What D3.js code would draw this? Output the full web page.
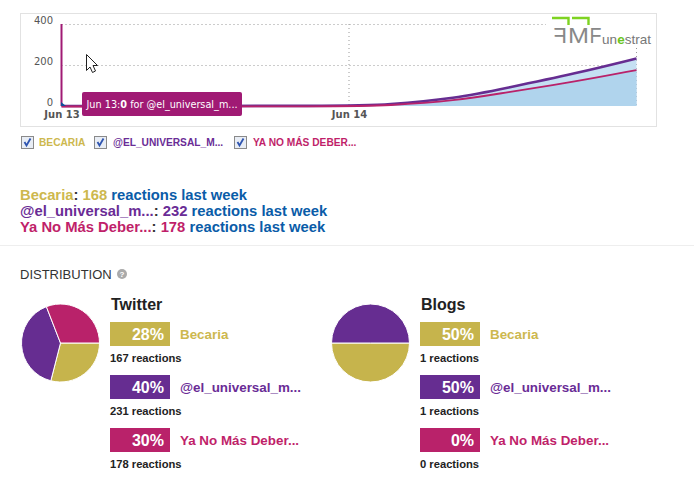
<!DOCTYPE html>
<html>
<head>
<meta charset="utf-8">
<script src="https://cdn.jsdelivr.net/npm/d3@7"></script>
<style>
html, body { margin: 0; padding: 0; background: #fff; overflow: hidden; }
text { font-family: "Liberation Sans", Arial, sans-serif; }
.chartText { font-family: "DejaVu Sans", Verdana, sans-serif; }
.axis path, .axis line { display: none; }
</style>
</head>
<body>
<svg id="chart" width="694" height="480"></svg>
<script>
// chart data, hours counted from Jun 13
var hours = [0, 24, 27, 33, 37, 43, 48];
var tickHours = [0, 24];
var tickLabels = ["Jun 13", "Jun 14"];
var valueTicks = [0, 200, 400];
var universalLine = [0, 0, 5, 38, 86, 160, 232];
var yaNoMasLine = [0, 0, 4, 28, 68, 122, 178];
var hoverSpike = [0, 400];

var names = ["Becaria", "@el_universal_m...", "Ya No Más Deber..."];
var legendNames = ["BECARIA", "@EL_UNIVERSAL_M...", "YA NO MÁS DEBER..."];
var weekTotals = [168, 232, 178];
var colors = ["#c6b44c", "#662d91", "#b9226a"];
var textColors = ["#cdb84e", "#6a2c96", "#c01f6a"];

var twitterReactions = [167, 231, 178];
var twitterPercents = [28, 40, 30];
var blogReactions = [1, 1, 0];
var blogPercents = [50, 50, 0];

var svg = d3.select("#chart");

// plot frame
svg.append("rect")
    .attr("x", 20.5).attr("y", 13.5)
    .attr("width", 636).attr("height", 113)
    .attr("fill", "#fff")
    .attr("stroke", "#e2e2e2");

var x = d3.scaleLinear().domain([0, 48]).range([61.5, 636.5]);
var y = d3.scaleLinear().domain([0, 400]).range([106, 24]);

// dotted grid
var grid = svg.append("g")
    .attr("stroke", "#999")
    .attr("stroke-dasharray", "1,3");
grid.selectAll("line.h")
    .data(valueTicks.slice(1))
    .enter().append("line")
    .attr("class", "h")
    .attr("x1", x(0)).attr("x2", x(48))
    .attr("y1", function(d) { return y(d) + 0.5; })
    .attr("y2", function(d) { return y(d) + 0.5; });
grid.selectAll("line.v")
    .data([24, 48])
    .enter().append("line")
    .attr("class", "v")
    .attr("x1", function(d) { return x(d); })
    .attr("x2", function(d) { return x(d); })
    .attr("y1", y(400)).attr("y2", y(0));

var curve = d3.curveBasis;
var area = d3.area()
    .x(function(d, i) { return x(hours[i]); })
    .y0(y(0))
    .y1(function(d) { return y(d); })
    .curve(curve);
var line = d3.line()
    .x(function(d, i) { return x(hours[i]); })
    .y(function(d) { return y(d); })
    .curve(curve);

svg.append("path").attr("d", area(universalLine)).attr("fill", "#c5e0f3");
svg.append("path").attr("d", area(yaNoMasLine)).attr("fill", "#b0d4ed");
svg.append("path").attr("d", line(universalLine))
    .attr("fill", "none").attr("stroke", colors[1]).attr("stroke-width", 2.6);
svg.append("path").attr("d", line(yaNoMasLine))
    .attr("transform", "translate(0,0.5)")
    .attr("fill", "none").attr("stroke", colors[2]).attr("stroke-width", 1.8);

// hover spike at Jun 13
svg.append("line")
    .attr("x1", x(0)).attr("x2", x(0))
    .attr("y1", y(hoverSpike[1])).attr("y2", y(hoverSpike[0]))
    .attr("stroke", "#a01a74").attr("stroke-width", 2);
svg.append("path")
    .attr("d", "M61,102L66,106L61,106Z")
    .attr("fill", "#0f4f9c");

// logo sits on white and hides the grid
var logo = svg.append("g");
logo.append("rect").attr("x", 546).attr("y", 15).attr("width", 108).attr("height", 33).attr("fill", "#fff");
logo.append("path")
    .attr("d", "M552,18H568.5V25M572,18H588.5V25")
    .attr("fill", "none").attr("stroke", "#7ed321").attr("stroke-width", 2.4);
logo.append("text")
    .attr("transform", "translate(567,43) scale(-1,1)")
    .attr("font-size", 22).attr("fill", "#888").text("F");
logo.append("text")
    .attr("x", 568).attr("y", 43)
    .attr("font-size", 22).attr("fill", "#888")
    .attr("textLength", 21).attr("lengthAdjust", "spacingAndGlyphs")
    .text("M");
logo.append("text")
    .attr("x", 589.5).attr("y", 43)
    .attr("font-size", 22).attr("fill", "#888")
    .attr("textLength", 12).attr("lengthAdjust", "spacingAndGlyphs")
    .text("F");
logo.append("text")
    .attr("x", 602).attr("y", 43.5)
    .attr("font-size", 13.5).attr("fill", "#777")
    .text("un");
logo.append("text")
    .attr("x", 617.2).attr("y", 43.5)
    .attr("font-size", 13.5).attr("font-weight", "bold").attr("fill", "#6cc51f")
    .text("e");
logo.append("text")
    .attr("x", 624.8).attr("y", 43.5)
    .attr("font-size", 13.5).attr("fill", "#777")
    .text("strat");

// axes
var yAxis = d3.axisLeft(y).tickValues(valueTicks).tickSize(0).tickPadding(0);
var yG = svg.append("g").attr("class", "axis").attr("transform", "translate(53,-4)").call(yAxis);
yG.selectAll("text").attr("class", "chartText").attr("font-size", 10).attr("fill", "#555");

var xAxis = d3.axisBottom(x).tickValues(tickHours)
    .tickFormat(function(d, i) { return tickLabels[i]; })
    .tickSize(0).tickPadding(0);
var xG = svg.append("g").attr("class", "axis").attr("transform", "translate(0,111)").call(xAxis);
xG.selectAll("text").attr("class", "chartText").attr("font-size", 10).attr("font-weight", "bold").attr("fill", "#555");

// tooltip
svg.append("rect")
    .attr("x", 82).attr("y", 92).attr("width", 160).attr("height", 24).attr("rx", 2)
    .attr("fill", "#a01a74");
var tip = svg.append("text")
    .attr("class", "chartText")
    .attr("x", 86.5).attr("y", 107.5)
    .attr("font-size", 9.7).attr("fill", "#fff");
tip.append("tspan").text("Jun 13:");
tip.append("tspan").attr("font-weight", "bold").text("0");
tip.append("tspan").text(" for @el_universal_m...");

// mouse cursor from the screenshot
svg.append("path")
    .attr("d", "M86.5,54.5V70.5L90,67L92.5,72.5L95.5,71L93,65.5H97.5Z")
    .attr("fill", "#fff").attr("stroke", "#222");

// series toggles
var toggleX = [21, 94, 234];
var toggleLabelX = [39, 113, 253];
var toggles = svg.selectAll("g.toggle")
    .data(legendNames)
    .enter().append("g").attr("class", "toggle");
toggles.append("rect")
    .attr("x", function(d, i) { return toggleX[i] + 0.5; }).attr("y", 136.5)
    .attr("width", 12).attr("height", 12)
    .attr("fill", "#e8edf5").attr("stroke", "#8a8a8a");
toggles.append("path")
    .attr("d", function(d, i) {
        var cx = toggleX[i];
        return "M" + (cx + 3.5) + ",142L" + (cx + 5.5) + ",145.5L" + (cx + 9.5) + ",138.5";
    })
    .attr("fill", "none").attr("stroke", "#2f55b0").attr("stroke-width", 1.8);
toggles.append("text")
    .attr("x", function(d, i) { return toggleLabelX[i]; }).attr("y", 146)
    .attr("font-size", 10.2).attr("font-weight", "bold")
    .attr("fill", function(d, i) { return textColors[i]; })
    .text(function(d) { return d; });

// weekly summary
var summary = svg.selectAll("text.summary")
    .data(names)
    .enter().append("text")
    .attr("class", "summary")
    .attr("x", 20)
    .attr("y", function(d, i) { return 200 + i * 16; })
    .attr("font-size", 14.8).attr("font-weight", "bold");
summary.append("tspan").attr("fill", function(d, i) { return textColors[i]; }).text(function(d) { return d; });
summary.append("tspan").attr("fill", "#333").text(": ");
summary.append("tspan").attr("fill", function(d, i) { return textColors[i]; }).text(function(d, i) { return weekTotals[i] + " "; });
summary.append("tspan").attr("fill", "#0a5ca8").text("reactions last week");

svg.append("line")
    .attr("x1", 0).attr("x2", 694).attr("y1", 245.5).attr("y2", 245.5)
    .attr("stroke", "#eee");

// distribution
svg.append("text")
    .attr("x", 20).attr("y", 279)
    .attr("font-size", 13).attr("fill", "#333")
    .text("DISTRIBUTION");
svg.append("circle").attr("cx", 122).attr("cy", 274).attr("r", 5).attr("fill", "#aaa");
svg.append("text")
    .attr("x", 122).attr("y", 277).attr("text-anchor", "middle")
    .attr("font-size", 8).attr("font-weight", "bold").attr("fill", "#fff")
    .text("?");

var pie = d3.pie().sort(null).startAngle(Math.PI / 2).endAngle(Math.PI * 2.5);
var arc = d3.arc().innerRadius(0).outerRadius(39);

function drawPanel(title, cx, left, reactions, percents) {
    var g = svg.append("g");
    g.append("g")
        .attr("transform", "translate(" + cx + ",343)")
        .selectAll("path")
        .data(pie(reactions).filter(function(d) { return d.value > 0; }))
        .enter().append("path")
        .attr("d", arc)
        .attr("fill", function(d) { return colors[d.index]; })
        .attr("stroke", "#fff")
        .attr("stroke-width", 1);

    g.append("text")
        .attr("x", left + 1).attr("y", 310)
        .attr("font-size", 16).attr("font-weight", "bold").attr("fill", "#222")
        .text(title);

    var rows = g.selectAll("g.row")
        .data(names)
        .enter().append("g")
        .attr("transform", function(d, i) { return "translate(" + left + "," + (322 + i * 53) + ")"; });
    rows.append("rect")
        .attr("width", 60).attr("height", 24)
        .attr("fill", function(d, i) { return colors[i]; });
    rows.append("text")
        .attr("x", 54).attr("y", 18).attr("text-anchor", "end")
        .attr("font-size", 16).attr("font-weight", "bold").attr("fill", "#fff")
        .text(function(d, i) { return percents[i] + "%"; });
    rows.append("text")
        .attr("x", 70).attr("y", 17)
        .attr("font-size", 13.4).attr("font-weight", "bold")
        .attr("fill", function(d, i) { return textColors[i]; })
        .text(function(d) { return d; });
    rows.append("text")
        .attr("x", 0).attr("y", 40)
        .attr("font-size", 11.2).attr("font-weight", "bold").attr("fill", "#222")
        .text(function(d, i) { return reactions[i] + " reactions"; });
}

drawPanel("Twitter", 60.5, 110, twitterReactions, twitterPercents);
drawPanel("Blogs", 370.5, 420, blogReactions, blogPercents);
</script>
</body>
</html>
